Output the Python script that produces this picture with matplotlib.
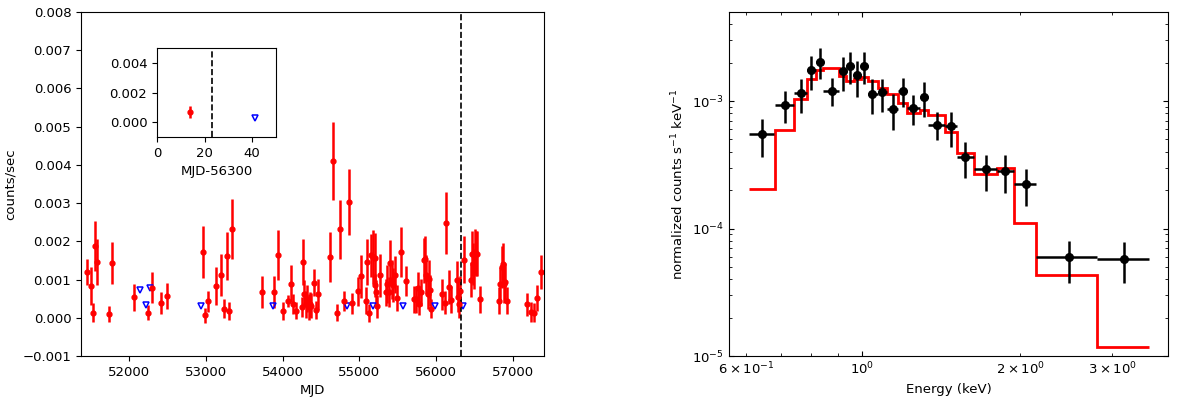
import numpy as np
import matplotlib
matplotlib.use('Agg')
import matplotlib.pyplot as plt

plt.rcParams['font.size'] = 9.5

# ---------------- light curve (left panel) ----------------
mjd = [51454, 51515, 51532, 51558, 51584, 51749, 51779, 52065, 52247, 52308,
       52420, 52494, 52966, 52997, 53031, 53140, 53200, 53244, 53278, 53309,
       53343, 53738, 53894, 53946, 54002, 54076, 54110, 54140, 54171, 54253,
       54270, 54284, 54301, 54318, 54340, 54357, 54375, 54405, 54435, 54461,
       54617, 54660, 54708, 54752, 54799, 54868, 54903, 54986, 55016, 55090,
       55098, 55128, 55146, 55176, 55197, 55202, 55219, 55232, 55263, 55341,
       55358, 55384, 55401, 55419, 55436, 55462, 55488, 55540, 55610, 55709,
       55739, 55761, 55774, 55800, 55835, 55852, 55869, 55887, 55900, 55913,
       55926, 56078, 56112, 56129, 56159, 56185, 56272, 56284, 56296, 56314,
       56362, 56449, 56466, 56480, 56493, 56502, 56515, 56532, 56567, 56810,
       56831, 56849, 56862, 56875, 56892, 56922, 57174, 57226, 57270, 57313,
       57360]
rate = [1.20, 0.83, 0.13, 1.87, 1.46, 0.10, 1.43, 0.54, 0.13, 0.79,
        0.39, 0.57, 1.72, 0.06, 0.43, 0.83, 1.13, 0.24, 1.62, 0.17,
        2.33, 0.67, 0.68, 1.65, 0.17, 0.44, 0.89, 0.37, 0.19, 0.28,
        1.46, 0.63, 0.35, 0.50, 0.28, 0.35, 0.32, 0.92, 0.21, 0.61,
        1.59, 4.10, 0.13, 2.31, 0.45, 3.02, 0.38, 0.69, 1.08, 0.45,
        1.46, 0.12, 1.63, 1.59, 0.85, 1.56, 0.67, 0.30, 1.11, 0.67,
        0.89, 0.67, 1.43, 1.00, 0.86, 1.13, 0.52, 1.72, 0.96, 0.48,
        0.48, 0.79, 0.37, 0.67, 1.50, 1.55, 1.13, 0.63, 1.02, 0.72,
        0.24, 0.61, 0.39, 2.48, 0.80, 0.47, 0.98, 0.54, 0.35, 0.70,
        1.52, 1.00, 1.68, 1.41, 1.26, 1.72, 1.68, 1.68, 0.48, 0.45,
        0.89, 1.33, 1.41, 0.89, 0.93, 0.45, 0.35, 0.15, 0.13, 0.52,
        1.20]
rate_err = [0.35, 0.50, 0.25, 0.65, 0.60, 0.20, 0.55, 0.35, 0.20, 0.40,
            0.28, 0.33, 0.67, 0.20, 0.28, 0.50, 0.55, 0.25, 0.63, 0.24,
            0.78, 0.42, 0.42, 0.65, 0.24, 0.15, 0.48, 0.26, 0.22, 0.26,
            0.60, 0.35, 0.35, 0.35, 0.33, 0.33, 0.32, 0.36, 0.24, 0.40,
            0.65, 1.01, 0.22, 0.77, 0.26, 0.86, 0.28, 0.38, 0.55, 0.35,
            0.60, 0.24, 0.57, 0.70, 0.30, 0.65, 0.32, 0.30, 0.57, 0.35,
            0.50, 0.40, 0.60, 0.50, 0.45, 0.48, 0.33, 0.66, 0.40, 0.35,
            0.35, 0.40, 0.30, 0.35, 0.60, 0.60, 0.50, 0.40, 0.50, 0.40,
            0.25, 0.40, 0.30, 0.80, 0.45, 0.35, 0.50, 0.40, 0.35, 0.40,
            0.62, 0.45, 0.60, 0.55, 0.50, 0.60, 0.60, 0.60, 0.35, 0.35,
            0.45, 0.55, 0.55, 0.50, 0.50, 0.35, 0.30, 0.25, 0.25, 0.35,
            0.45]
ul_mjd = [52147, 52230, 52273, 52945, 53876, 54842, 55172, 55570, 55982, 56341]
ul_rate = [0.73, 0.33, 0.77, 0.31, 0.31, 0.31, 0.31, 0.31, 0.31, 0.31]
burst_mjd = 56323
inset_ref = 56300

# ---------------- spectrum (right panel) ----------------
energy = [0.645, 0.712, 0.764, 0.800, 0.830, 0.874, 0.917, 0.949, 0.978, 1.009,
          1.045, 1.089, 1.143, 1.194, 1.251, 1.311, 1.386, 1.476, 1.573, 1.72,
          1.875, 2.05, 2.48, 3.16]
e_lo = [0.608, 0.682, 0.741, 0.783, 0.815, 0.843, 0.903, 0.933, 0.964, 0.993,
        1.027, 1.070, 1.113, 1.171, 1.215, 1.288, 1.337, 1.438, 1.514, 1.633,
        1.804, 1.950, 2.142, 2.801]
e_hi = [0.679, 0.741, 0.783, 0.815, 0.843, 0.903, 0.933, 0.964, 0.993, 1.027,
        1.070, 1.113, 1.171, 1.215, 1.288, 1.337, 1.438, 1.514, 1.633, 1.804,
        1.950, 2.142, 2.801, 3.52]
counts = [5.49e-4, 9.36e-4, 1.15e-3, 1.74e-3, 2.04e-3, 1.21e-3, 1.72e-3, 1.90e-3,
          1.59e-3, 1.90e-3, 1.14e-3, 1.18e-3, 8.71e-4, 1.20e-3, 8.82e-4, 1.075e-3,
          6.53e-4, 6.34e-4, 3.65e-4, 2.91e-4, 2.84e-4, 2.23e-4, 5.97e-5, 5.79e-5]
counts_hi = [7.28e-4, 1.20e-3, 1.48e-3, 2.25e-3, 2.60e-3, 1.51e-3, 2.20e-3, 2.41e-3,
             2.08e-3, 2.41e-3, 1.49e-3, 1.49e-3, 1.14e-3, 1.52e-3, 1.11e-3, 1.41e-3,
             8.20e-4, 8.20e-4, 4.79e-4, 3.76e-4, 3.76e-4, 2.91e-4, 8.05e-5, 7.78e-5]
counts_lo = [3.61e-4, 6.73e-4, 8.11e-4, 1.23e-3, 1.48e-3, 9.09e-4, 1.21e-3, 1.35e-3,
             1.07e-3, 1.35e-3, 7.96e-4, 8.20e-4, 5.97e-4, 8.98e-4, 6.45e-4, 7.50e-4,
             4.93e-4, 4.37e-4, 2.47e-4, 1.98e-4, 1.89e-4, 1.49e-4, 3.74e-5, 3.74e-5]
model_edges = [0.608, 0.682, 0.741, 0.783, 0.815, 0.843, 0.903, 0.933, 0.964, 0.993,
               1.027, 1.070, 1.113, 1.171, 1.215, 1.288, 1.337, 1.438, 1.514, 1.633,
               1.804, 1.950, 2.142, 2.801, 3.52]
model = [2.04e-4, 5.97e-4, 1.03e-3, 1.48e-3, 1.76e-3, 1.81e-3, 1.57e-3, 1.43e-3,
         1.49e-3, 1.54e-3, 1.45e-3, 1.27e-3, 1.13e-3, 9.70e-4, 8.06e-4, 8.55e-4,
         7.72e-4, 5.73e-4, 3.88e-4, 2.70e-4, 2.96e-4, 1.11e-4, 4.30e-5, 1.18e-5]

fig = plt.figure(figsize=(12, 3.99), dpi=100)

# left: light curve
ax1 = fig.add_axes([81/1200, 43/399, 463/1200, 344/399])
ax1.errorbar(mjd, np.array(rate) * 1e-3, yerr=np.array(rate_err) * 1e-3,
             fmt='o', color='red', ms=3.5, elinewidth=1.8, capsize=0)
ax1.plot(ul_mjd, np.array(ul_rate) * 1e-3, 'v', mfc='none', mec='blue', ms=5, mew=1.1)
ax1.axvline(burst_mjd, color='black', ls='--', lw=1.2)
ax1.set_xlim(51380, 57400)
ax1.set_ylim(-0.001, 0.008)
ax1.set_xlabel('MJD')
ax1.set_ylabel('counts/sec')

# inset around the burst (MJD 56300-56350)
axin = fig.add_axes([157/1200, (399-137)/399, 119/1200, 89/399])
sel = [i for i, m in enumerate(mjd) if 0 <= m - inset_ref <= 50]
axin.errorbar([mjd[i] - inset_ref for i in sel], [rate[i] * 1e-3 for i in sel],
              yerr=[rate_err[i] * 1e-3 for i in sel],
              fmt='o', color='red', ms=3.5, elinewidth=1.8, capsize=0)
usel = [i for i, m in enumerate(ul_mjd) if 0 <= m - inset_ref <= 50]
axin.plot([ul_mjd[i] - inset_ref for i in usel], [ul_rate[i] * 1e-3 for i in usel],
          'v', mfc='none', mec='blue', ms=5, mew=1.1)
axin.axvline(burst_mjd - inset_ref, color='black', ls='--', lw=1.2)
axin.set_xlim(0, 50)
axin.set_ylim(-0.001, 0.005)
axin.set_yticks([0.0, 0.002, 0.004])
axin.set_xlabel('MJD-56300')

# right: spectrum
ax2 = fig.add_axes([729/1200, 43/399, 439/1200, 344/399])
e = np.array(energy)
c = np.array(counts)
ax2.errorbar(e, c, xerr=[e - np.array(e_lo), np.array(e_hi) - e],
             yerr=[c - np.array(counts_lo), np.array(counts_hi) - c],
             fmt='o', color='black', ms=5.5, elinewidth=1.8, capsize=0)
ax2.stairs(model, model_edges, baseline=None, color='red', lw=2)
ax2.set_xscale('log')
ax2.set_yscale('log')
ax2.set_xlim(0.557, 3.83)
ax2.set_ylim(1e-5, 5e-3)
ax2.tick_params(which='both', direction='in', top=True, right=True)
ax2.set_xlabel('Energy (keV)')
ax2.set_ylabel('normalized counts s$^{-1}$ keV$^{-1}$')

fig.savefig('out.png', dpi=100)
